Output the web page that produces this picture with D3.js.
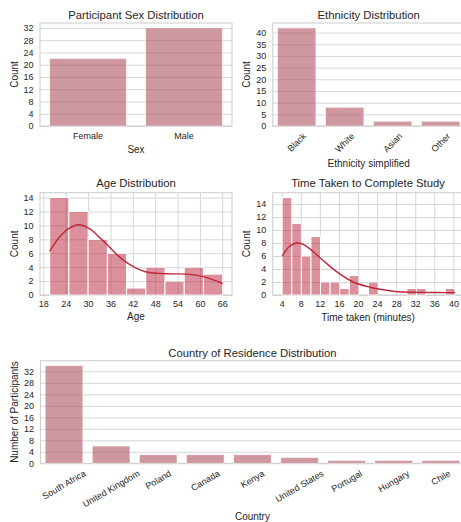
<!DOCTYPE html>
<html>
<head>
<meta charset="utf-8">
<script src="https://cdn.jsdelivr.net/npm/d3@7"></script>
<style>
  html, body { margin: 0; padding: 0; background: #fff; overflow: hidden; }
  svg { display: block; font-family: "Liberation Sans", Arial, sans-serif; }
</style>
</head>
<body>
<svg id="fig" width="461" height="522"></svg>
<script>
// ---- data ----
const sexCategories = ["Female", "Male"];
const sexCounts = [22, 32];

const ethnicityCategories = ["Black", "White", "Asian", "Other"];
const ethnicityCounts = [42, 8, 2, 2];

const ageTicks = [18, 24, 30, 36, 42, 48, 54, 60, 66];
const ageBinRange = [19.7, 66.1];
const ageCounts = [14, 12, 8, 6, 1, 4, 2, 4, 3];
const ageKdeX = [19.7, 22.5, 25, 27.4, 30.5, 33.2, 35, 37.7, 40, 42.1, 45.7, 51, 56.4, 60.9, 66.1];
const ageKdeY = [6.3, 8.45, 9.6, 10.1, 9.5, 8.2, 7.3, 5.8, 4.8, 4.1, 3.3, 3.05, 3.0, 2.65, 1.65];

const timeTicks = [4, 8, 12, 16, 20, 24, 28, 32, 36, 40];
const timeBinRange = [4.1, 40.3];
const timeCounts = [15, 11, 6, 9, 2, 2, 1, 3, 0, 2, 0, 0, 0, 1, 1, 0, 0, 1];
const timeKdeX = [4.1, 5.5, 7.1, 8.5, 9.9, 12.7, 15.5, 19, 22.5, 25, 28.4, 31, 34, 37, 40.3];
const timeKdeY = [5.95, 7.4, 8.0, 7.8, 7.1, 5.3, 3.6, 2.0, 1.2, 0.85, 0.5, 0.42, 0.4, 0.38, 0.35];

const countryCategories = ["South Africa", "United Kingdom", "Poland", "Canada", "Kenya",
  "United States", "Portugal", "Hungary", "Chile"];
const countryCounts = [34, 6, 3, 3, 3, 2, 1, 1, 1];

// ---- styling ----
const TEXT = "#262626";
const GRID = "#d6d6d6";
const SPINE = "#cccccc";
const BAR_FILL = "rgb(175,83,97)";
const BAR_OPACITY = 0.6;
const HIST_FILL = "rgb(180,22,46)";
const HIST_OPACITY = 0.48;
const KDE_COLOR = "rgb(190,40,60)";

const svg = d3.select("#fig");

function frame(g, box) {
  g.append("rect")
    .attr("x", box.left).attr("y", box.top)
    .attr("width", box.right - box.left).attr("height", box.bottom - box.top)
    .attr("fill", "none").attr("stroke", SPINE).attr("stroke-width", 1);
}

function title(g, box, text, y) {
  g.append("text")
    .attr("x", (box.left + box.right) / 2).attr("y", y)
    .attr("text-anchor", "middle").attr("dy", "0.35em")
    .attr("font-size", 11.3).attr("fill", TEXT).text(text);
}

function xLabel(g, box, text, y) {
  g.append("text")
    .attr("x", (box.left + box.right) / 2).attr("y", y)
    .attr("text-anchor", "middle").attr("dy", "0.35em")
    .attr("font-size", 10).attr("fill", TEXT).text(text);
}

function yLabel(g, box, text, x) {
  g.append("text")
    .attr("transform", `translate(${x},${(box.top + box.bottom) / 2}) rotate(-90)`)
    .attr("text-anchor", "middle").attr("dy", "0.35em")
    .attr("font-size", 10).attr("fill", TEXT).text(text);
}

// horizontal grid + left tick labels from a linear scale
function yAxis(g, box, y, ticks) {
  const ax = g.append("g").attr("transform", `translate(${box.left},0)`)
    .call(d3.axisLeft(y).tickValues(ticks).tickSize(-(box.right - box.left)).tickPadding(6.5));
  ax.select(".domain").remove();
  ax.selectAll(".tick line").attr("stroke", GRID).attr("stroke-width", 1);
  ax.selectAll(".tick text").attr("font-size", 9).attr("fill", TEXT)
    .attr("font-family", "Liberation Sans, Arial, sans-serif");
  return ax;
}

// vertical grid + bottom tick labels from a linear scale
function xAxisLinear(g, box, x, ticks) {
  const ax = g.append("g").attr("transform", `translate(0,${box.bottom})`)
    .call(d3.axisBottom(x).tickValues(ticks).tickSize(-(box.bottom - box.top)).tickPadding(6));
  ax.select(".domain").remove();
  ax.selectAll(".tick line").attr("stroke", GRID).attr("stroke-width", 1);
  ax.selectAll(".tick text").attr("font-size", 9).attr("fill", TEXT)
    .attr("font-family", "Liberation Sans, Arial, sans-serif");
  return ax;
}

// categorical tick labels, optionally rotated about their own centre
function xAxisBand(g, box, x, cats, angle) {
  const ax = g.append("g");
  cats.forEach(c => {
    const cx = x(c) + x.bandwidth() / 2;
    const t = ax.append("text").attr("font-size", 9).attr("fill", TEXT)
      .attr("text-anchor", "middle").attr("dy", "0.35em").text(c);
    const w = t.node().getComputedTextLength();
    const h = 10;
    const rad = angle * Math.PI / 180;
    const bh = w * Math.sin(rad) + h * Math.cos(rad);
    const cy = box.bottom + 5 + bh / 2;
    t.attr("transform", `translate(${cx},${cy}) rotate(${-angle})`);
  });
}

function barPanel(box, cats, vals, yMax, ticks, angle, labels) {
  const g = svg.append("g");
  const x = d3.scaleBand().domain(cats).range([box.left, box.right]).paddingInner(0.2).paddingOuter(0.1);
  const y = d3.scaleLinear().domain([0, yMax]).range([box.bottom, box.top]);
  yAxis(g, box, y, ticks);
  frame(g, box);
  g.selectAll("rect.bar").data(cats).join("rect").attr("class", "bar")
    .attr("x", c => x(c)).attr("width", x.bandwidth())
    .attr("y", (c, i) => y(vals[i])).attr("height", (c, i) => box.bottom - y(vals[i]))
    .attr("fill", BAR_FILL).attr("fill-opacity", BAR_OPACITY)
    .attr("stroke", "#ffffff").attr("stroke-opacity", 0.55).attr("stroke-width", 1);
  xAxisBand(g, box, x, cats, angle);
  title(g, box, labels.title, labels.titleY);
  xLabel(g, box, labels.x, labels.xY);
  yLabel(g, box, labels.y, box.left - 26);
}

function histPanel(box, xDomain, ticks, binRange, counts, kx, ky, yMax, yTicks, labels) {
  const g = svg.append("g");
  const x = d3.scaleLinear().domain(xDomain).range([box.left, box.right]);
  const y = d3.scaleLinear().domain([0, yMax]).range([box.bottom, box.top]);
  yAxis(g, box, y, yTicks);
  xAxisLinear(g, box, x, ticks);
  frame(g, box);
  const bw = (binRange[1] - binRange[0]) / counts.length;
  g.selectAll("rect.bin").data(counts).join("rect").attr("class", "bin")
    .attr("x", (d, i) => x(binRange[0] + i * bw))
    .attr("width", (d, i) => x(binRange[0] + (i + 1) * bw) - x(binRange[0] + i * bw))
    .attr("y", d => y(d)).attr("height", d => box.bottom - y(d))
    .attr("fill", HIST_FILL).attr("fill-opacity", HIST_OPACITY)
    .attr("stroke", d => d > 0 ? "#ffffff" : "none").attr("stroke-width", 1);
  const line = d3.line().x(d => x(d[0])).y(d => y(d[1])).curve(d3.curveCatmullRom.alpha(0.5));
  g.append("path").datum(kx.map((v, i) => [v, ky[i]]))
    .attr("d", line).attr("fill", "none").attr("stroke", KDE_COLOR).attr("stroke-width", 1.4);
  title(g, box, labels.title, labels.titleY);
  xLabel(g, box, labels.x, labels.xY);
  yLabel(g, box, labels.y, box.left - 26);
}

// Participant sex
barPanel({ left: 40, right: 232, top: 23, bottom: 126 }, sexCategories, sexCounts,
  d3.max(sexCounts) * 1.05, d3.range(0, 33, 4), 0,
  { title: "Participant Sex Distribution", titleY: 15, x: "Sex", xY: 149, y: "Count" });

// Ethnicity
barPanel({ left: 272.7, right: 464.7, top: 23, bottom: 126 }, ethnicityCategories, ethnicityCounts,
  d3.max(ethnicityCounts) * 1.05, d3.range(0, 41, 5), 45,
  { title: "Ethnicity Distribution", titleY: 15, x: "Ethnicity simplified", xY: 163.5, y: "Count" });

// Age histogram
histPanel({ left: 40, right: 232, top: 192.7, bottom: 295 }, [17.1, 68.6], ageTicks, ageBinRange,
  ageCounts, ageKdeX, ageKdeY, d3.max(ageCounts) * 1.05, d3.range(0, 15, 2),
  { title: "Age Distribution", titleY: 183.3, x: "Age", xY: 316.7, y: "Count" });

// Completion time histogram
histPanel({ left: 272.7, right: 463.4, top: 192.7, bottom: 295 }, [2.11, 42.1], timeTicks, timeBinRange,
  timeCounts, timeKdeX, timeKdeY, d3.max(timeCounts) * 1.05, d3.range(0, 15, 2),
  { title: "Time Taken to Complete Study", titleY: 183.3, x: "Time taken (minutes)", xY: 317.7, y: "Count" });

// Country of residence
barPanel({ left: 40.45, right: 464.4, top: 360.7, bottom: 463.3 }, countryCategories, countryCounts,
  d3.max(countryCounts) * 1.05, d3.range(0, 33, 4), 30,
  { title: "Country of Residence Distribution", titleY: 352.7, x: "Country", xY: 516, y: "Number of Participants" });
</script>
</body>
</html>
